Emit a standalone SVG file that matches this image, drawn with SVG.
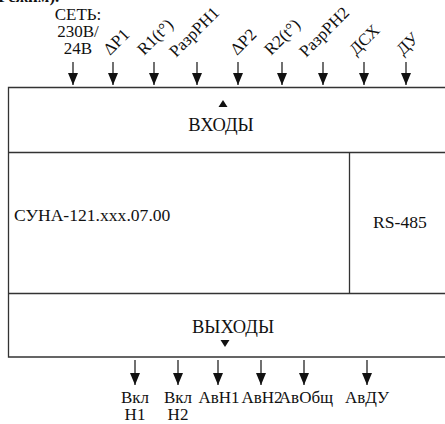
<svg xmlns="http://www.w3.org/2000/svg" width="445" height="424" viewBox="0 0 445 424">
<style>
text{font-size:17px;fill:#111}
.c{text-anchor:middle}
.big{font-size:18.5px}
.ln{stroke:#111;stroke-width:1.2;fill:none}
.box{stroke:#333;stroke-width:1.3;fill:none}
</style>
<defs>
<marker id="ah" viewBox="0 0 12 10" refX="12" refY="5" markerWidth="12" markerHeight="10" markerUnits="userSpaceOnUse" orient="auto">
<path d="M0,0 L12,5 L0,10 Z" fill="#111"/>
</marker>
</defs>
<g font-family="'Liberation Serif', 'Times New Roman', serif">
<text x="-2" y="2" font-weight="bold">Режим).</text>
<g id="device">
<path class="box" d="M450,87.5 H8.5 V357 H450"/>
<line class="box" x1="8.5" y1="152.5" x2="450" y2="152.5"/>
<line class="box" x1="8.5" y1="293.5" x2="450" y2="293.5"/>
<line class="box" x1="349.5" y1="152.5" x2="349.5" y2="293.5"/>
</g>
<g id="inputs">
<path d="M218.5,107 L223,100 L227.5,107 Z" fill="#111"/>
<text class="c big" x="221" y="131">ВХОДЫ</text>
</g>
<g id="main"><text x="14" y="221" style="font-size:17.6px">СУНА-121.xxx.07.00</text></g>
<g id="rs485"><text x="373" y="228" style="font-size:17.6px">RS-485</text></g>
<g id="outputs">
<text class="c big" x="233" y="333">ВЫХОДЫ</text>
<path d="M220.5,340 L225,347 L229.5,340 Z" fill="#111"/>
</g>
<g id="in-labels">
<text class="c" x="78" y="20">СЕТЬ:</text>
<text class="c" x="78" y="37">230В/</text>
<text class="c" x="78" y="54">24В</text>
<text transform="translate(110,56) rotate(-45)">ΔР1</text>
<text transform="translate(144,56) rotate(-45)">R1(t°)</text>
<text transform="translate(176,58) rotate(-45)">РазрРН1</text>
<text transform="translate(237,56) rotate(-45)">ΔР2</text>
<text transform="translate(271,56) rotate(-45)">R2(t°)</text>
<text transform="translate(306,58) rotate(-45)">РазрРН2</text>
<text transform="translate(356,56) rotate(-45)">ДСХ</text>
<text transform="translate(403,56) rotate(-45)">ДУ</text>
</g>
<g id="out-labels">
<text class="c" x="135" y="403">Вкл</text>
<text class="c" x="135" y="420">Н1</text>
<text class="c" x="178" y="403">Вкл</text>
<text class="c" x="178" y="420">Н2</text>
<text class="c" x="219" y="403">АвН1</text>
<text class="c" x="262" y="403">АвН2</text>
<text class="c" x="306" y="403">АвОбщ</text>
<text class="c" x="367" y="403">АвДУ</text>
</g>
</g>
<g id="connectors">
<line class="ln" x1="73" y1="62" x2="73" y2="85" marker-end="url(#ah)"/>
<line class="ln" x1="113" y1="62" x2="113" y2="85" marker-end="url(#ah)"/>
<line class="ln" x1="154" y1="62" x2="154" y2="85" marker-end="url(#ah)"/>
<line class="ln" x1="197" y1="62" x2="197" y2="85" marker-end="url(#ah)"/>
<line class="ln" x1="238" y1="62" x2="238" y2="85" marker-end="url(#ah)"/>
<line class="ln" x1="282" y1="62" x2="282" y2="85" marker-end="url(#ah)"/>
<line class="ln" x1="323" y1="62" x2="323" y2="85" marker-end="url(#ah)"/>
<line class="ln" x1="364" y1="62" x2="364" y2="85" marker-end="url(#ah)"/>
<line class="ln" x1="406" y1="62" x2="406" y2="85" marker-end="url(#ah)"/>
<line class="ln" x1="135" y1="360" x2="135" y2="385" marker-end="url(#ah)"/>
<line class="ln" x1="178" y1="360" x2="178" y2="385" marker-end="url(#ah)"/>
<line class="ln" x1="218" y1="360" x2="218" y2="385" marker-end="url(#ah)"/>
<line class="ln" x1="261" y1="360" x2="261" y2="385" marker-end="url(#ah)"/>
<line class="ln" x1="304" y1="360" x2="304" y2="385" marker-end="url(#ah)"/>
<line class="ln" x1="367" y1="360" x2="367" y2="385" marker-end="url(#ah)"/>
</g>
</svg>
